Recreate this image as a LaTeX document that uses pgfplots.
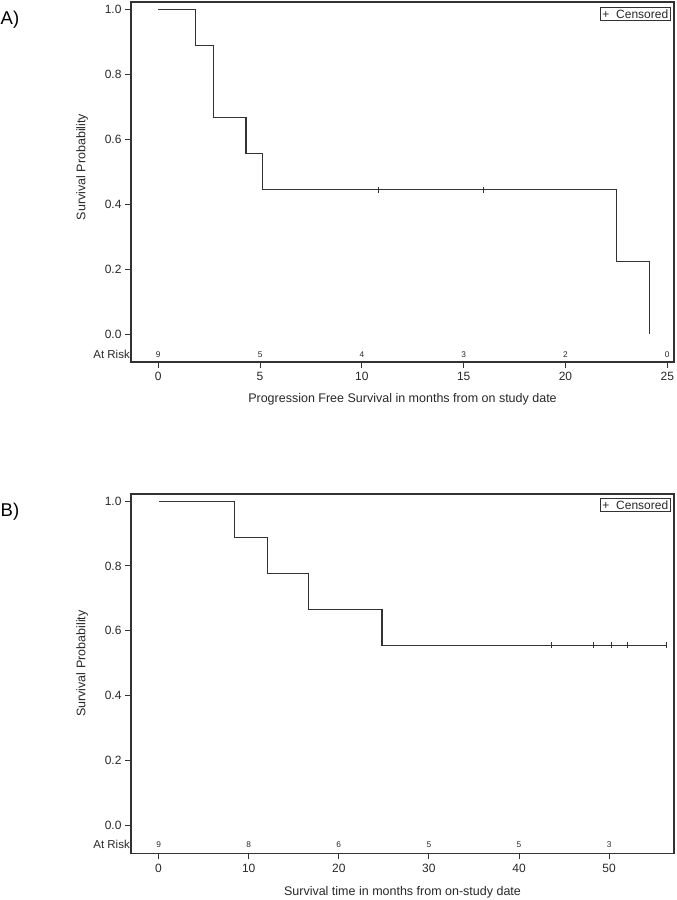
\documentclass[border=0pt]{standalone}
\usepackage{pgfplots}
\pgfplotsset{compat=1.18}
\usepackage{fontspec}
\setmainfont{Liberation Sans}
\definecolor{txt}{RGB}{40,40,40}
\definecolor{ln}{RGB}{50,50,50}
\tikzset{rk/.style={font=\fontsize{8.3}{9}\selectfont, text=txt}}
\pgfplotsset{
  kmstyle/.style={
    scale only axis,
    width=543pt,
    axis line style={ln, line width=1.1pt},
    tick style={ln, line width=1pt},
    major tick length=6pt,
    tick align=outside,
    xtick pos=bottom, ytick pos=left,
    ymin=-0.086, ymax=1.022,
    ytick={0,0.2,0.4,0.6,0.8,1.0},
    yticklabel style={/pgf/number format/.cd, fixed, fixed zerofill, precision=1},
    /pgf/number format/assume math mode=true,
    tick label style={font=\fontsize{12}{14}\selectfont, text=txt},
    label style={font=\fontsize{12.5}{14}\selectfont, text=txt},
    ylabel={Survival Probability},
    clip=false,
    xticklabel style={yshift=-1pt},
  },
}
\begin{document}
\begin{tikzpicture}[x=1pt,y=1pt]
\useasboundingbox (0,0) rectangle (677,900);
\node[font=\fontsize{18.5}{20}\selectfont, text=black] at (10,880) {A)};
\node[font=\fontsize{18.5}{20}\selectfont, text=black] at (10,388.3) {B)};
% ---------- Panel A ----------
\begin{axis}[kmstyle,
  at={(131pt,538pt)}, anchor=south west,
  height=360pt,
  xmin=-1.34, xmax=25.33,
  xtick={0,5,10,15,20,25},
  xlabel={Progression Free Survival in months from on study date},
  xlabel style={at={(axis description cs:0.5,0)}, anchor=center, yshift=-37pt},
  ylabel style={at={(axis description cs:-0.09,0.542)}, anchor=center},
]
\addplot[const plot, ln, line width=1.1pt] coordinates {
 (0,1.0) (1.82,0.889) (2.72,0.667) (4.31,0.556) (5.11,0.444) (22.51,0.222) (24.12,0.0)
};
\addplot[only marks, mark=|, mark size=3pt, ln, mark options={line width=1pt}] coordinates {
 (10.84,0.444) (15.98,0.444)
};
\node[anchor=east, font=\fontsize{11.5}{12}\selectfont, text=txt, inner sep=1pt] at (axis cs:-1.34,-0.062) {At Risk};
\node[rk] at (axis cs:0,-0.062) {9};
\node[rk] at (axis cs:5,-0.062) {5};
\node[rk] at (axis cs:10,-0.062) {4};
\node[rk] at (axis cs:15,-0.062) {3};
\node[rk] at (axis cs:20,-0.062) {2};
\node[rk] at (axis cs:25,-0.062) {0};
\node[draw=ln, line width=1pt, anchor=north east, inner sep=2pt, font=\fontsize{12}{13}\selectfont, text=txt]
  at ([xshift=-3.3pt,yshift=-5pt]rel axis cs:1,1) {+\ \ Censored};
\end{axis}
% ---------- Panel B ----------
\begin{axis}[kmstyle,
  at={(131pt,46.7pt)}, anchor=south west,
  height=359.3pt,
  xmin=-3.06, xmax=57.2,
  xtick={0,10,20,30,40,50},
  xlabel={Survival time in months from on-study date},
  xlabel style={at={(axis description cs:0.5,0)}, anchor=center, yshift=-39.4pt},
  ylabel style={at={(axis description cs:-0.09,0.528)}, anchor=center},
]
\addplot[const plot, ln, line width=1.1pt] coordinates {
 (0,1.0) (8.43,0.889) (12.09,0.778) (16.6,0.667) (24.8,0.556) (56.4,0.556)
};
\addplot[only marks, mark=|, mark size=3pt, ln, mark options={line width=1pt}] coordinates {
 (43.6,0.556) (48.3,0.556) (50.3,0.556) (52.0,0.556) (56.4,0.556)
};
\node[anchor=east, font=\fontsize{11.5}{12}\selectfont, text=txt, inner sep=1pt] at (axis cs:-3.06,-0.058) {At Risk};
\node[rk] at (axis cs:0,-0.058) {9};
\node[rk] at (axis cs:10,-0.058) {8};
\node[rk] at (axis cs:20,-0.058) {6};
\node[rk] at (axis cs:30,-0.058) {5};
\node[rk] at (axis cs:40,-0.058) {5};
\node[rk] at (axis cs:50,-0.058) {3};
\node[draw=ln, line width=1pt, anchor=north east, inner sep=2pt, font=\fontsize{12}{13}\selectfont, text=txt]
  at ([xshift=-3.3pt,yshift=-4.5pt]rel axis cs:1,1) {+\ \ Censored};
\end{axis}
\end{tikzpicture}
\end{document}
